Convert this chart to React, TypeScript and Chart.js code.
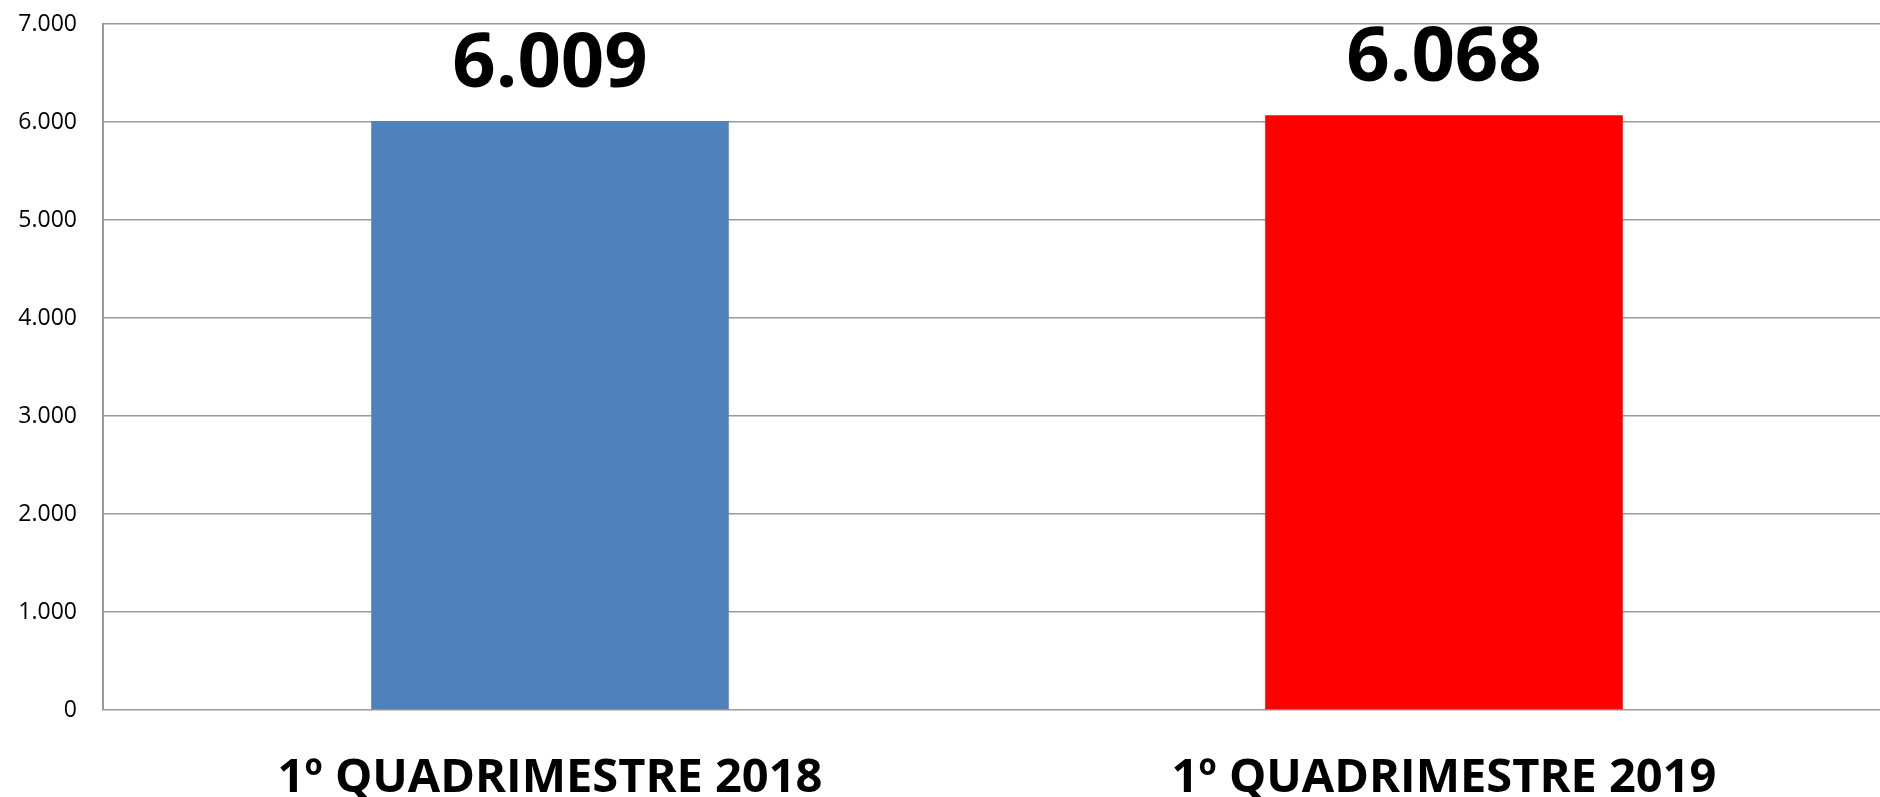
import React, { useEffect, useRef } from 'react';
import { Chart, registerables } from 'chart.js';

Chart.register(...registerables);

const categories: string[] = ['1º QUADRIMESTRE 2018', '1º QUADRIMESTRE 2019'];
const values: number[] = [6009, 6068];
const barColors: string[] = ['#4F81BD', '#FF0000'];
const yMin = 0;
const yMax = 7000;
const yStep = 1000;

const fmt = (v: number): string =>
  String(Math.round(v)).replace(/\B(?=(\d{3})+(?!\d))/g, '.');

const valueLabels = {
  id: 'valueLabels',
  afterDatasetsDraw(chart: any) {
    const ctx = chart.ctx;
    const meta = chart.getDatasetMeta(0);
    ctx.save();
    ctx.fillStyle = '#000';
    ctx.font = 'bold 76px "Open Sans"';
    ctx.textAlign = 'center';
    ctx.textBaseline = 'alphabetic';
    meta.data.forEach((bar: any, i: number) => {
      ctx.fillText(fmt(chart.data.datasets[0].data[i]), bar.x, bar.y - 34);
    });
    ctx.restore();
  },
};

export default function App() {
  const ref = useRef<HTMLCanvasElement | null>(null);
  useEffect(() => {
    if (!ref.current) return;
    const chart = new Chart(ref.current, {
      type: 'bar',
      data: {
        labels: categories,
        datasets: [
          {
            data: values,
            backgroundColor: barColors,
            borderWidth: 0,
            categoryPercentage: 1,
            barPercentage: 0.4,
          },
        ],
      },
      options: {
        responsive: false,
        animation: false,
        layout: { padding: { top: 24, right: 0, left: 0, bottom: 0 } },
        plugins: {
          legend: { display: false },
          tooltip: { enabled: false },
        },
        scales: {
          x: {
            grid: { display: false, drawTicks: false },
            border: { display: false },
            ticks: {
              color: '#000',
              font: { family: '"Open Sans"', size: 47, weight: 'bold' },
              padding: 40,
              maxRotation: 0,
              autoSkip: false,
            },
            afterFit: (s: any) => {
              s.height = 797 - 710;
              s.paddingLeft = 0;
              s.paddingRight = 0;
            },
          },
          y: {
            min: yMin,
            max: yMax,
            grid: { color: '#9a9a9a', lineWidth: 1.5, drawTicks: false },
            border: { display: true, color: '#9a9a9a', width: 2 },
            ticks: {
              stepSize: yStep,
              color: '#000',
              padding: 26,
              font: { family: '"Open Sans"', size: 23 },
              callback: (v: any) => fmt(Number(v)),
            },
            afterFit: (s: any) => {
              s.width = 103;
              s.paddingTop = 0;
              s.paddingBottom = 0;
            },
          },
        },
      },
      plugins: [valueLabels],
    });
    return () => chart.destroy();
  }, []);
  return (
    <div
      style={{
        position: 'fixed',
        left: 0,
        top: 0,
        width: 1880,
        height: 797,
        overflow: 'hidden',
        background: '#fff',
      }}
    >
      <canvas ref={ref} width={1891} height={797} style={{ display: 'block' }} />
    </div>
  );
}
